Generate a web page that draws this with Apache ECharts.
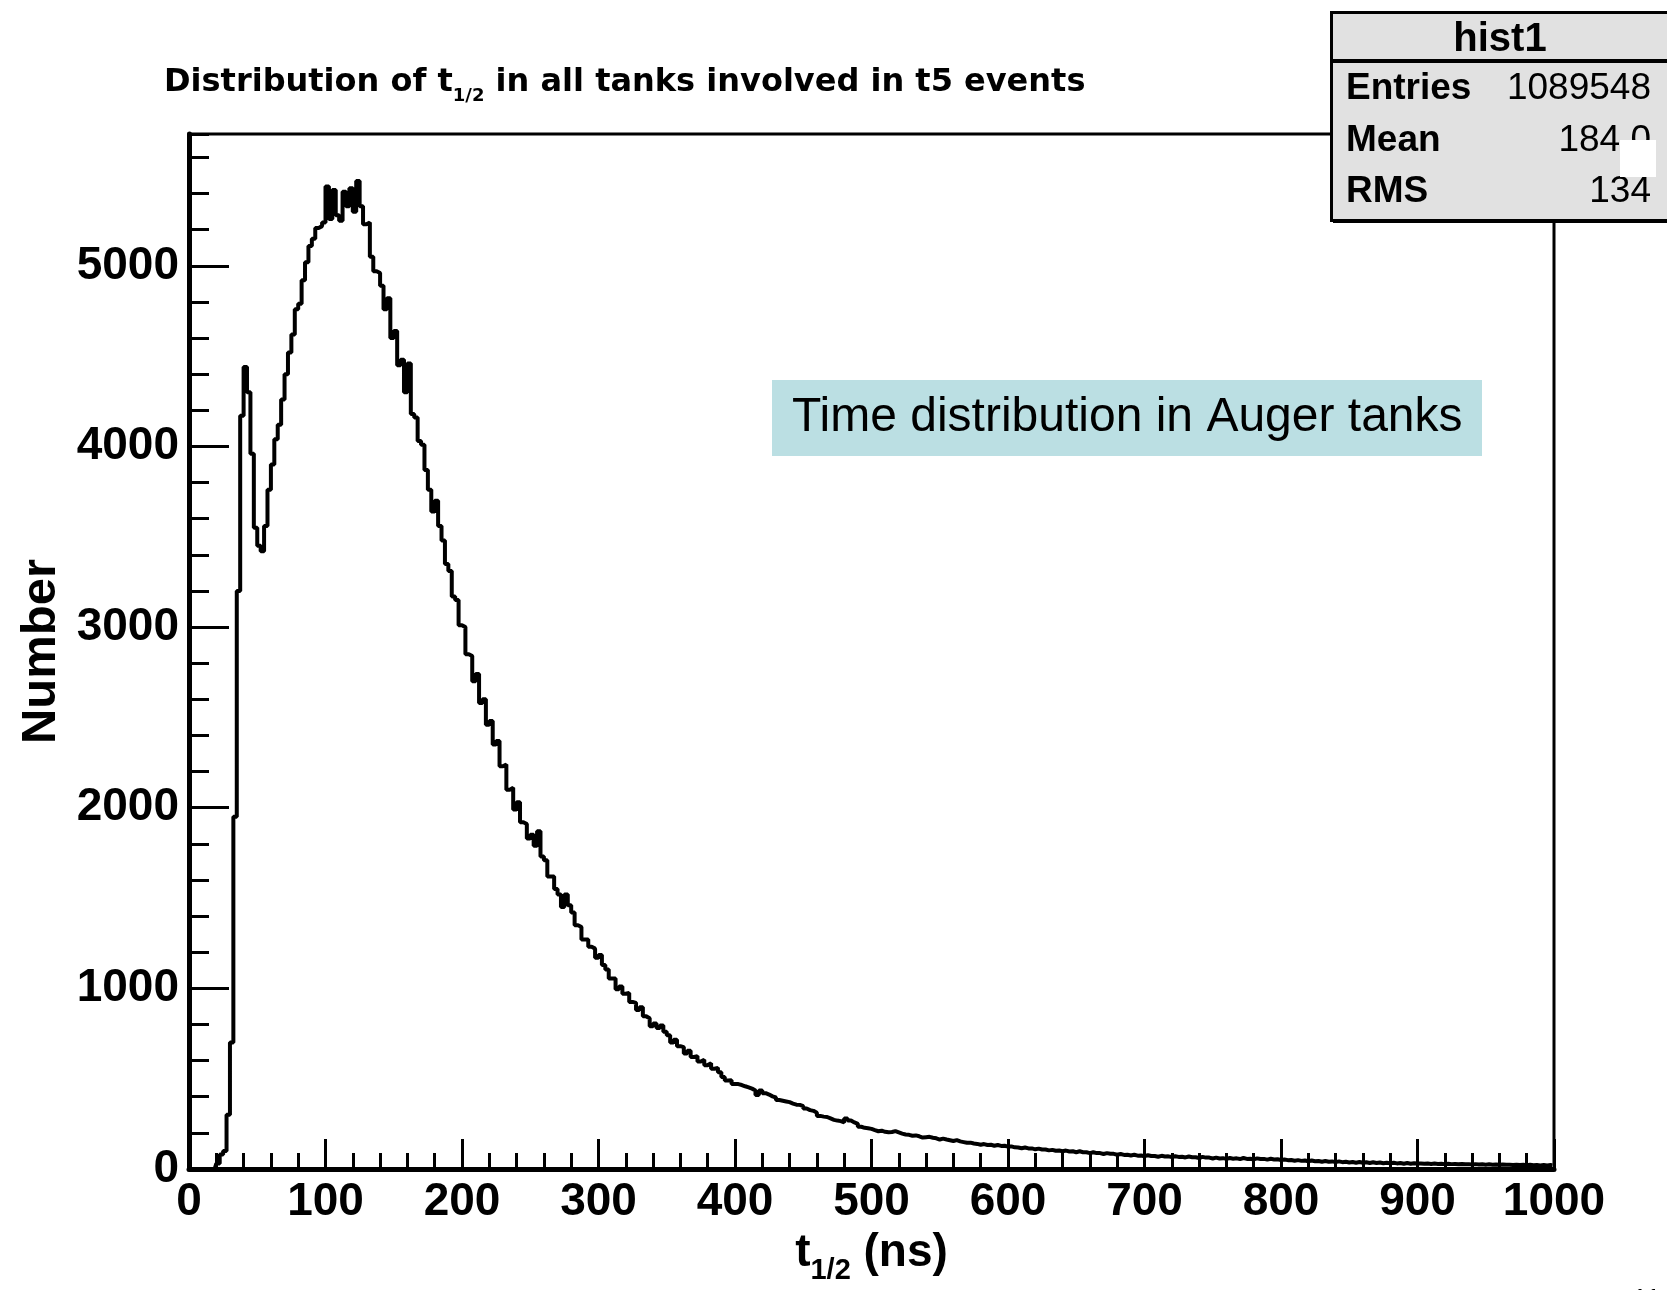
<!DOCTYPE html>
<html>
<head>
<meta charset="utf-8">
<script src="https://cdn.jsdelivr.net/npm/echarts@6/dist/echarts.min.js"></script>
<style>
html,body{margin:0;padding:0;background:#fff;}
#c{width:1667px;height:1290px;}
</style>
</head>
<body>
<div id="c"></div>
<script>
// ---- data ----
const binStart = 0;      // ns
const binWidth = 2.5;    // ns
const counts = [
  0, 0, 0, 0, 0, 0, 0, 0, 30, 80,
  100, 300, 700, 1950, 3200, 4170, 4440, 4300, 3960, 3550,
  3450, 3420, 3560, 3760, 3900, 4040, 4120, 4260, 4400, 4520,
  4620, 4760, 4790, 4920, 5020, 5110, 5150, 5210, 5220, 5240,
  5440, 5260, 5420, 5280, 5250, 5410, 5330, 5430, 5300, 5470,
  5330, 5230, 5240, 5050, 4970, 4960, 4890, 4760, 4820, 4600,
  4640, 4450, 4480, 4300, 4460, 4180, 4160, 4030, 4010, 3870,
  3760, 3640, 3700, 3560, 3480, 3350, 3310, 3170, 3150, 3010,
  3000, 2850, 2840, 2700, 2740, 2580, 2600, 2460, 2480, 2350,
  2370, 2230, 2240, 2100, 2110, 1990, 2030, 1920, 1910, 1830,
  1850, 1790, 1870, 1730, 1710, 1620, 1620, 1550, 1520, 1450,
  1520, 1460, 1420, 1350, 1340, 1270, 1270, 1230, 1220, 1170,
  1185, 1130, 1105, 1055, 1055, 995, 1010, 970, 975, 925,
  920, 880, 895, 845, 835, 790, 805, 780, 795, 760,
  740, 700, 715, 680, 675, 640, 655, 620, 625, 595,
  605, 575, 585, 555, 560, 535, 510, 490, 492, 470,
  470, 465, 458, 452, 445, 435, 410, 435, 420, 412,
  402, 396, 382, 378, 374, 370, 362, 356, 355, 348,
  335, 326, 322, 312, 294, 290, 288, 280, 272, 268,
  265, 258, 280, 268, 258, 250, 234, 228, 226, 222,
  215, 209, 212, 206, 203, 205, 210, 203, 196, 191,
  189, 184, 186, 181, 174, 176, 178, 173, 170, 163,
  168, 163, 159, 155, 160, 153, 149, 145, 146, 141,
  139, 134, 138, 133, 134, 129, 133, 128, 129, 124,
  125, 120, 119, 115, 119, 114, 114, 109, 113, 108,
  108, 103, 106, 101, 102, 98, 102, 97, 98, 93,
  98, 93, 93, 88, 93, 88, 88, 83, 88, 84,
  84, 79, 83, 78, 79, 75, 79, 74, 75, 71,
  76, 72, 72, 68, 73, 69, 70, 66, 71, 67,
  68, 64, 69, 65, 65, 61, 67, 63, 63, 58,
  63, 58, 60, 56, 61, 57, 59, 55, 61, 56,
  57, 53, 59, 55, 56, 52, 57, 53, 54, 50,
  53, 49, 50, 46, 49, 45, 47, 43, 47, 43,
  44, 40, 44, 40, 42, 38, 42, 38, 40, 36,
  39, 35, 39, 35, 37, 33, 37, 33, 36, 32,
  35, 31, 35, 31, 33, 29, 33, 29, 32, 30,
  31, 29, 30, 28, 30, 28, 29, 27, 29, 27,
  28, 26, 28, 26, 27, 25, 27, 25, 26, 24,
  26, 24, 25, 23, 25, 23, 24, 22, 24, 22,
  23, 21, 23, 21, 22, 20, 22, 20, 22, 20
];
const xMin = 0, xMax = 1000, xStep = 100;
const yMin = 0, yMax = 5730, yStep = 1000, yMinorStep = 200;
const titleParts = ['Distribution of t', '1/2', ' in all tanks involved in t5 events'];
const xNameParts = ['t', '1/2', ' (ns)'];
const yName = 'Number';
const statsTitle = 'hist1';
const statsLabels = ['Entries', 'Mean', 'RMS'];
const statsValues = ['1089548', '184.0', '134'];
const noteText = 'Time distribution in Auger tanks';
const pageNumber = '11';

// ---- build ----
const seriesData = counts.map((v, i) => [binStart + binWidth * (i + 0.5), v]);

const FF = '"Liberation Sans", Arial, Helvetica, sans-serif';
const FT = '"DejaVu Sans", "Liberation Sans", sans-serif';

// dithered grey pattern for the stats box
const pat = document.createElement('canvas');
pat.width = 2; pat.height = 2;
const pctx = pat.getContext('2d');
pctx.fillStyle = '#ffffff'; pctx.fillRect(0, 0, 2, 2);
pctx.fillStyle = '#c4c4c4'; pctx.fillRect(0, 0, 1, 1); pctx.fillRect(1, 1, 1, 1);

const chart = echarts.init(document.getElementById('c'), null, {renderer: 'canvas'});

const plain = v => String(v);

const option = {
  animation: false,
  backgroundColor: '#ffffff',
  title: {
    text: '{m|' + titleParts[0] + '}{s|' + titleParts[1] + '}{m|' + titleParts[2] + '}',
    left: 159, top: 56,
    textStyle: {
      rich: {
        m: {fontSize: 32, fontWeight: 'bold', fontFamily: FT, color: '#000', lineHeight: 44},
        s: {fontSize: 18, fontWeight: 'bold', fontFamily: FT, color: '#000', lineHeight: 14, verticalAlign: 'bottom'}
      }
    }
  },
  grid: {left: 189, right: 113, top: 134, bottom: 121, show: true, borderColor: '#000', borderWidth: 3,
         backgroundColor: 'transparent', containLabel: false, outerBoundsMode: 'none'},
  xAxis: {
    type: 'value', min: xMin, max: xMax, interval: xStep,
    name: '{m|' + xNameParts[0] + '}{s|' + xNameParts[1] + '}{m|' + xNameParts[2] + '}',
    nameLocation: 'middle', nameGap: 48,
    nameTextStyle: {
      rich: {
        m: {fontSize: 46, fontWeight: 'bold', fontFamily: FF, color: '#000', lineHeight: 66},
        s: {fontSize: 29, fontWeight: 'bold', fontFamily: FF, color: '#000', lineHeight: 26, verticalAlign: 'bottom'}
      }
    },
    axisLine: {show: true, lineStyle: {color: '#000', width: 5}},
    axisTick: {show: true, inside: true, length: 30, lineStyle: {color: '#000', width: 3}},
    minorTick: {show: true, splitNumber: 5, length: 16, lineStyle: {color: '#000', width: 3}},
    axisLabel: {fontSize: 46, fontWeight: 'bold', fontFamily: FF, color: '#000', margin: 10, formatter: plain},
    splitLine: {show: false}
  },
  yAxis: [
    {
      type: 'value', min: yMin, max: yMax, interval: yStep,
      name: yName, nameLocation: 'middle', nameRotate: 90, nameGap: 117,
      nameTextStyle: {fontSize: 49, fontWeight: 'bold', fontFamily: FF, color: '#000'},
      axisLine: {show: true, lineStyle: {color: '#000', width: 5}},
      axisTick: {show: true, inside: true, length: 40, lineStyle: {color: '#000', width: 3}},
      axisLabel: {fontSize: 46, fontWeight: 'bold', fontFamily: FF, color: '#000', margin: 10, showMaxLabel: false, formatter: plain},
      splitLine: {show: false}
    },
    {
      type: 'value', min: yMin, max: yMax, interval: yMinorStep, position: 'left',
      axisLine: {show: false},
      axisTick: {show: true, inside: true, length: 20, lineStyle: {color: '#000', width: 3}},
      axisLabel: {show: false},
      splitLine: {show: false}
    }
  ],
  series: [{
    type: 'line', step: 'middle', yAxisIndex: 0,
    data: seriesData, symbol: 'none',
    lineStyle: {color: '#000', width: 4},
    z: 3
  }],
  graphic: [
    // annotation box
    {type: 'rect', left: 772, top: 380, z: 10,
     shape: {width: 710, height: 76}, style: {fill: '#bbdfe3'}},
    {type: 'text', x: 792, y: 418, z: 11,
     style: {text: noteText, fontSize: 48, fontFamily: FF, fill: '#000', align: 'left', verticalAlign: 'middle'}},
    // stats box shadow + box
    {type: 'rect', left: 1333, top: 15, z: 20,
     shape: {width: 400, height: 208}, style: {fill: '#000'}},
    {type: 'rect', left: 1330, top: 11, z: 21,
     shape: {width: 400, height: 208},
     style: {fill: {image: pat, repeat: 'repeat'}, stroke: '#000', lineWidth: 3}},
    {type: 'line', z: 22, shape: {x1: 1330, y1: 61, x2: 1667, y2: 61}, style: {stroke: '#000', lineWidth: 4}},
    {type: 'text', x: 1500, y: 40, z: 22,
     style: {text: statsTitle, fontSize: 40, fontWeight: 'bold', fontFamily: FF, fill: '#000', align: 'center', verticalAlign: 'middle'}},
    {type: 'text', x: 1346, y: 89, z: 22,
     style: {text: statsLabels[0], fontSize: 37, fontWeight: 'bold', fontFamily: FF, fill: '#000', align: 'left', verticalAlign: 'middle'}},
    {type: 'text', x: 1346, y: 141, z: 22,
     style: {text: statsLabels[1], fontSize: 37, fontWeight: 'bold', fontFamily: FF, fill: '#000', align: 'left', verticalAlign: 'middle'}},
    {type: 'text', x: 1346, y: 192, z: 22,
     style: {text: statsLabels[2], fontSize: 37, fontWeight: 'bold', fontFamily: FF, fill: '#000', align: 'left', verticalAlign: 'middle'}},
    {type: 'text', x: 1651, y: 89, z: 22,
     style: {text: statsValues[0], fontSize: 37, fontFamily: FF, fill: '#000', align: 'right', verticalAlign: 'middle'}},
    {type: 'text', x: 1651, y: 141, z: 22,
     style: {text: statsValues[1], fontSize: 37, fontFamily: FF, fill: '#000', align: 'right', verticalAlign: 'middle'}},
    {type: 'text', x: 1651, y: 192, z: 22,
     style: {text: statsValues[2], fontSize: 37, fontFamily: FF, fill: '#000', align: 'right', verticalAlign: 'middle'}},
    // white patch over the stats values
    {type: 'rect', left: 1620, top: 140, z: 23, shape: {width: 36, height: 37}, style: {fill: '#fff'}},
    // page number, mostly cut off
    {type: 'text', x: 1632, y: 1286, z: 22,
     style: {text: pageNumber, fontSize: 28, fontFamily: FF, fill: '#000', align: 'left', verticalAlign: 'top'}}
  ]
};
chart.setOption(option);
</script>
</body>
</html>
